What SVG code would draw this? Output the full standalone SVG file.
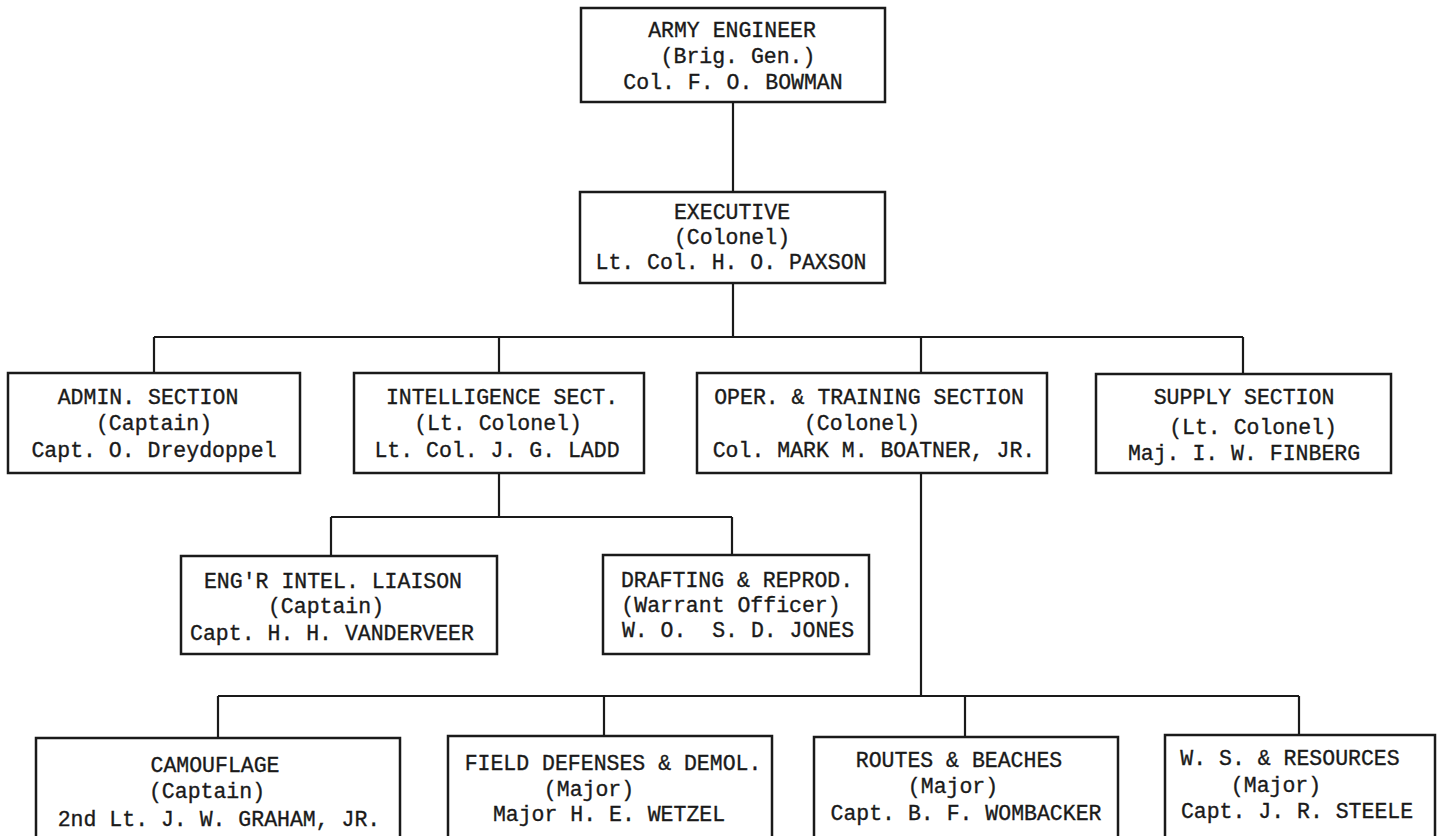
<svg xmlns="http://www.w3.org/2000/svg" width="1440" height="836" viewBox="0 0 1440 836">
<style>
.box{fill:#fff;stroke:#1a1a1a;stroke-width:2.5}
.ln{fill:none;stroke:#1a1a1a;stroke-width:2.2}
text{font-family:"Liberation Mono","DejaVu Sans Mono",monospace;font-size:21.5px;fill:#1a1a1a;text-anchor:middle;stroke:#1a1a1a;stroke-width:0.35;white-space:pre}
</style>
<rect width="1440" height="836" fill="#fff"/>
<g id="connectors">
<path class="ln" d="M733 102V192"/>
<path class="ln" d="M733 283V337M154 337H1243M154 337V373M499 337V373M921 337V373M1243 337V374"/>
<path class="ln" d="M499 473V517M331 517H732M331 517V556M732 517V555"/>
<path class="ln" d="M921 473V696M218 696H1299M218 696V738M604 696V736M965 696V737M1299 696V735"/>
</g>
<g id="army-engineer">
<rect class="box" x="581" y="8" width="304" height="94"/>
<text x="732" y="37">ARMY ENGINEER</text>
<text x="738" y="63">(Brig. Gen.)</text>
<text x="733" y="89">Col. F. O. BOWMAN</text>
</g>
<g id="executive">
<rect class="box" x="580" y="192" width="305" height="91"/>
<text x="732" y="219">EXECUTIVE</text>
<text x="732" y="244">(Colonel)</text>
<text x="731" y="269">Lt. Col. H. O. PAXSON</text>
</g>
<g id="admin">
<rect class="box" x="8" y="373" width="292" height="100"/>
<text x="148" y="404">ADMIN. SECTION</text>
<text x="154" y="430">(Captain)</text>
<text x="154" y="457">Capt. O. Dreydoppel</text>
</g>
<g id="intelligence">
<rect class="box" x="354" y="373" width="290" height="100"/>
<text x="502" y="404">INTELLIGENCE SECT.</text>
<text x="498" y="430">(Lt. Colonel)</text>
<text x="497" y="457">Lt. Col. J. G. LADD</text>
</g>
<g id="operations">
<rect class="box" x="697" y="373" width="350" height="100"/>
<text x="869" y="404">OPER. &amp; TRAINING SECTION</text>
<text x="862" y="430">(Colonel)</text>
<text x="874" y="457">Col. MARK M. BOATNER, JR.</text>
</g>
<g id="supply">
<rect class="box" x="1096" y="374" width="295" height="99"/>
<text x="1244" y="404">SUPPLY SECTION</text>
<text x="1253" y="434">(Lt. Colonel)</text>
<text x="1244" y="460">Maj. I. W. FINBERG</text>
</g>
<g id="engr-intel-liaison">
<rect class="box" x="181" y="556" width="316" height="98"/>
<text x="333" y="588">ENG'R INTEL. LIAISON</text>
<text x="326" y="613">(Captain)</text>
<text x="332" y="640">Capt. H. H. VANDERVEER</text>
</g>
<g id="drafting">
<rect class="box" x="603" y="555" width="266" height="99"/>
<text x="737" y="587">DRAFTING &amp; REPROD.</text>
<text x="731" y="612">(Warrant Officer)</text>
<text x="738" y="637" xml:space="preserve">W. O.  S. D. JONES</text>
</g>
<g id="camouflage">
<rect class="box" x="36" y="738" width="364" height="110"/>
<text x="215" y="772">CAMOUFLAGE</text>
<text x="207" y="798">(Captain)</text>
<text x="219" y="826">2nd Lt. J. W. GRAHAM, JR.</text>
</g>
<g id="field-defenses">
<rect class="box" x="448" y="736" width="324" height="112"/>
<text x="613" y="770">FIELD DEFENSES &amp; DEMOL.</text>
<text x="589" y="796">(Major)</text>
<text x="609" y="821">Major H. E. WETZEL</text>
</g>
<g id="routes-beaches">
<rect class="box" x="814" y="737" width="304" height="111"/>
<text x="959" y="767">ROUTES &amp; BEACHES</text>
<text x="953" y="793">(Major)</text>
<text x="966" y="820">Capt. B. F. WOMBACKER</text>
</g>
<g id="ws-resources">
<rect class="box" x="1165" y="735" width="270" height="113"/>
<text x="1290" y="765">W. S. &amp; RESOURCES</text>
<text x="1276" y="792">(Major)</text>
<text x="1297" y="818">Capt. J. R. STEELE</text>
</g>
</svg>
